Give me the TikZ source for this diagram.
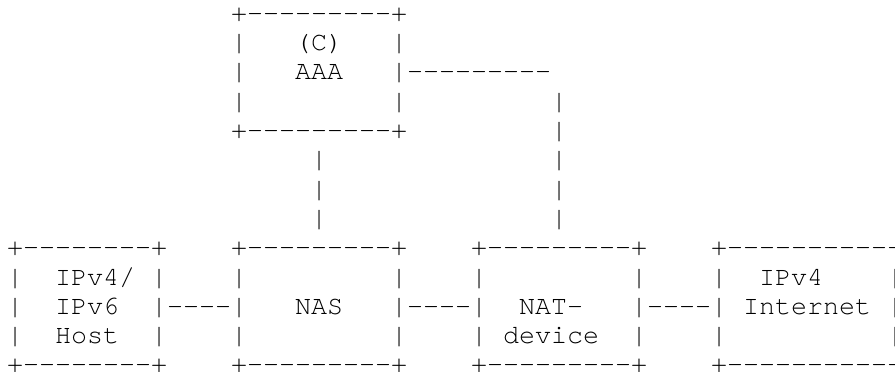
\documentclass[tikz,border=0pt]{standalone}
\usepackage{fontspec}
\newfontfamily\ascfont[Ligatures=TeXOff]{TeX Gyre Cursor}
\tikzset{
  asc/.style={inner sep=0pt, outer sep=0pt, anchor=base west, text=black,
    font=\ascfont\fontsize{26.67pt}{29.3pt}\selectfont}
}
% #1 name, #2 column, #3 row, #4 text
\newcommand\asctext[4]{\node[asc] (#1) at ({7pt+16pt*#2},{-21.3pt-29.3pt*#3}) {#4};}
\begin{document}
\begin{tikzpicture}
\useasboundingbox (0pt,0pt) rectangle (895pt,-372pt);
\clip (0pt,0pt) rectangle (895pt,-372pt);
\fill[white] (0pt,0pt) rectangle (895pt,-372pt);
% AAA box
\asctext{aaaTop}{14}{0}{+---------+}
\asctext{aaaL1}{14}{1}{|}
\asctext{aaaC}{18}{1}{(C)}
\asctext{aaaR1}{24}{1}{|}
\asctext{aaaL2}{14}{2}{|}
\asctext{aaaT}{18}{2}{AAA}
\asctext{aaaR2}{24}{2}{|---------}
\asctext{aaaL3}{14}{3}{|}
\asctext{aaaR3}{24}{3}{|}
\asctext{natV3}{34}{3}{|}
\asctext{aaaBot}{14}{4}{+---------+}
\asctext{natV4}{34}{4}{|}
\asctext{nasV5}{19}{5}{|}
\asctext{natV5}{34}{5}{|}
\asctext{nasV6}{19}{6}{|}
\asctext{natV6}{34}{6}{|}
\asctext{nasV7}{19}{7}{|}
\asctext{natV7}{34}{7}{|}
% bottom row of boxes
\asctext{hostTop}{0}{8}{+--------+}
\asctext{nasTop}{14}{8}{+---------+}
\asctext{natTop}{29}{8}{+---------+}
\asctext{inetTop}{44}{8}{+-----------+}
\asctext{r9a}{0}{9}{|}
\asctext{host1}{3}{9}{IPv4/}
\asctext{r9b}{9}{9}{|}
\asctext{r9c}{14}{9}{|}
\asctext{r9d}{24}{9}{|}
\asctext{r9e}{29}{9}{|}
\asctext{r9f}{39}{9}{|}
\asctext{r9g}{44}{9}{|}
\asctext{inet1}{47}{9}{IPv4}
\asctext{r9h}{55}{9}{|}
\asctext{r10a}{0}{10}{|}
\asctext{host2}{3}{10}{IPv6}
\asctext{link1}{9}{10}{|----|}
\asctext{nasT}{18}{10}{NAS}
\asctext{link2}{24}{10}{|----|}
\asctext{nat1}{32}{10}{NAT-}
\asctext{link3}{39}{10}{|----|}
\asctext{inet2}{46}{10}{Internet}
\asctext{r10h}{55}{10}{|}
\asctext{r11a}{0}{11}{|}
\asctext{host3}{3}{11}{Host}
\asctext{r11b}{9}{11}{|}
\asctext{r11c}{14}{11}{|}
\asctext{r11d}{24}{11}{|}
\asctext{r11e}{29}{11}{|}
\asctext{nat2}{31}{11}{device}
\asctext{r11f}{39}{11}{|}
\asctext{r11g}{44}{11}{|}
\asctext{r11h}{55}{11}{|}
\asctext{hostBot}{0}{12}{+--------+}
\asctext{nasBot}{14}{12}{+---------+}
\asctext{natBot}{29}{12}{+---------+}
\asctext{inetBot}{44}{12}{+-----------+}
\end{tikzpicture}
\end{document}
